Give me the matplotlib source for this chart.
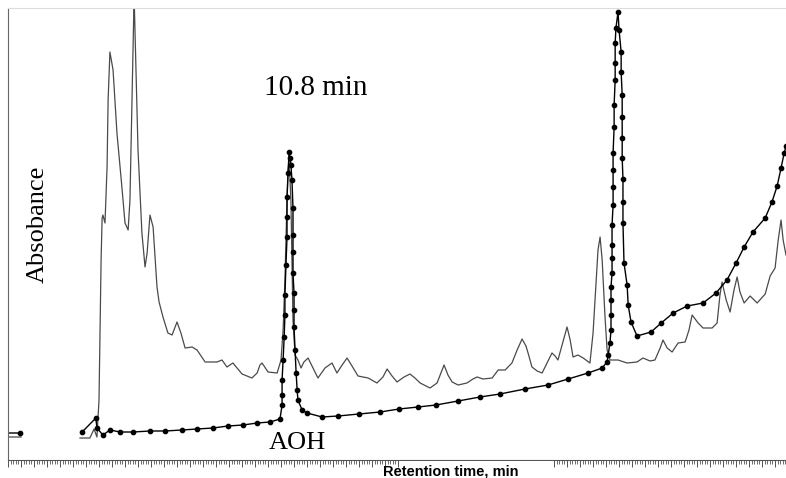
#!/usr/bin/env python3
"""Chromatogram overlay: sample trace (grey) + AOH standard (black, dotted)."""

import numpy as np
import matplotlib.pyplot as plt
from matplotlib.ticker import MultipleLocator
from matplotlib.patches import Rectangle

# sample trace (retention time min, absorbance mAU); nan = gap in trace
sample_t = [-0.30, 0.50, np.nan,
            2.77, 3.15, 3.31, 3.42, 3.50, 3.54, 3.58, 3.62, 3.65, 3.73, 3.81, 3.85,
            3.92, 4.04, 4.19, 4.38, 4.50, 4.62, 4.69, 4.77, 4.85, 4.92, 5.00, 5.15,
            5.27, 5.35, 5.46, 5.58, 5.73, 5.81, 5.96, 6.15, 6.31, 6.50, 6.65, 6.81,
            7.08, 7.27, 7.58, 8.04, 8.23, 8.42, 8.65, 9.00, 9.38, 9.58, 9.69, 9.77,
            10.00, 10.35, 10.50, 10.58, 10.65, 10.71, 10.77, 10.81, 10.88, 10.92,
            10.96, 11.04, 11.15, 11.27, 11.38, 11.54, 11.73, 11.92, 12.19, 12.46,
            12.65, 12.85, 13.04, 13.23, 13.46, 13.85, 14.19, 14.42, 14.58, 14.77,
            14.96, 15.23, 15.46, 15.65, 15.85, 16.23, 16.50, 16.65, 16.77, 16.92,
            17.08, 17.31, 17.65, 17.88, 18.04, 18.27, 18.62, 18.85, 19.12, 19.27,
            19.38, 19.58, 19.77, 19.92, 20.00, 20.15, 20.35, 20.54, 20.73, 20.92,
            21.04, 21.15, 21.31, 21.50, 21.62, 21.73, 21.92, 22.12, 22.38, 22.50,
            22.62, 22.69, 22.77, 22.85, 22.96, 23.04, 23.15, 23.46, 23.81, 24.19,
            24.42, 24.69, 24.88, 25.08, 25.19, 25.35, 25.54, 25.77, 26.04, 26.19,
            26.31, 26.54, 26.73, 27.08, 27.27, 27.38, 27.46, 27.62, 27.77, 27.92,
            28.04, 28.15, 28.31, 28.54, 28.81, 29.12, 29.31, 29.50, 29.62, 29.73,
            29.81, 29.92]
sample_a = [11.5, 11.5, np.nan,
            11.0, 11.0, 15.5, 11.5, 30.0, 65.0, 100.0, 121.0, 122.5, 118.5, 146.5, 180.0,
            204.0, 195.0, 163.5, 136.5, 118.5, 115.0, 130.0, 180.0, 232.0, 196.5, 155.0, 113.5,
            96.5, 103.5, 122.5, 116.5, 86.5, 79.0, 71.5, 63.5, 62.5, 69.0, 63.5, 56.0,
            56.5, 55.0, 49.0, 49.0, 50.0, 46.5, 48.5, 43.0, 41.0, 43.5, 47.5, 48.5,
            44.0, 43.5, 50.0, 65.0, 90.0, 120.0, 145.0, 150.0, 130.0, 100.0,
            70.0, 52.5, 50.0, 46.0, 49.0, 51.0, 46.0, 41.0, 46.0, 48.5,
            43.5, 47.5, 51.0, 47.0, 42.0, 41.0, 38.5, 41.5, 45.5, 42.0,
            39.0, 41.5, 43.0, 41.0, 38.5, 36.0, 38.5, 43.5, 47.5, 42.5,
            39.0, 37.5, 38.5, 40.5, 41.5, 40.5, 41.0, 45.0, 45.0, 47.0,
            48.5, 55.0, 60.5, 57.0, 53.5, 46.5, 44.5, 43.5, 48.5, 53.5,
            52.0, 50.0, 57.5, 66.5, 60.0, 51.5, 52.5, 51.0, 48.5, 63.5,
            90.0, 105.0, 111.5, 100.0, 71.5, 55.0, 50.0, 50.0, 48.5, 49.0,
            51.0, 49.5, 50.0, 56.0, 60.0, 56.0, 54.0, 58.5, 59.0, 65.0,
            72.5, 68.5, 66.0, 66.0, 68.5, 82.5, 89.0, 80.0, 74.0, 85.0,
            91.5, 84.0, 78.5, 82.0, 78.5, 83.0, 92.0, 96.0, 110.0, 120.0,
            110.0, 102.5]

# AOH standard (every recorded point is marked)
std_t = [-0.30, 0.46, np.nan,
         2.85, 3.38, 3.42, 3.65, 3.92, 4.31, 4.81, 5.46, 6.04, 6.69, 7.27,
         7.88, 8.46, 9.04, 9.58, 10.08, 10.46, 10.54, 10.54, 10.54, 10.58, 10.62,
         10.65, 10.65, 10.69, 10.73, 10.73, 10.73, 10.77, 10.81, 10.85, 10.88,
         10.92, 10.96, 10.96, 10.96, 10.96, 11.00, 11.00, 11.00, 11.04, 11.08,
         11.12, 11.15, 11.31, 11.50, 12.08, 12.69, 13.50, 14.31, 15.04, 15.77,
         16.46, 17.31, 18.15, 18.92, 19.88, 20.77, 21.54, 22.31, 22.85, 23.04,
         23.08, 23.15, 23.19, 23.19, 23.19, 23.19, 23.23, 23.23, 23.23, 23.23,
         23.27, 23.27, 23.27, 23.27, 23.31, 23.31, 23.35, 23.35, 23.35, 23.38,
         23.46, 23.50, 23.58, 23.58, 23.62, 23.62, 23.62, 23.62, 23.65, 23.65,
         23.65, 23.69, 23.81, 23.85, 23.96, 24.19, 24.73, 25.12, 25.58, 26.12,
         26.73, 27.23, 27.65, 28.00, 28.31, 28.65, 29.12, 29.38, 29.58, 29.73,
         29.85, 29.92]
std_a = [13.5, 13.5, np.nan,
         14.0, 21.0, 16.0, 12.5, 15.0, 14.0, 14.0, 14.5, 14.5, 15.0, 15.5,
         16.0, 17.0, 17.5, 18.5, 19.0, 20.5, 27.5, 32.5, 40.0, 50.0, 61.5,
         72.5, 82.5, 97.5, 111.5, 121.5, 131.5, 143.5, 154.0, 151.0, 147.5,
         140.0, 126.0, 112.5, 104.0, 93.5, 83.5, 75.0, 66.5, 55.0, 43.5,
         35.0, 30.0, 25.0, 23.5, 21.5, 22.0, 23.0, 24.0, 25.5, 26.5,
         27.5, 29.5, 31.5, 33.0, 35.5, 37.5, 40.5, 43.5, 46.0, 49.0,
         52.5, 58.5, 65.0, 72.5, 80.0, 86.5, 93.5, 101.0, 107.5, 117.5,
         127.5, 136.5, 145.0, 153.5, 166.5, 177.5, 190.0, 198.5, 208.5, 216.0,
         224.0, 215.0, 204.0, 194.0, 182.5, 171.5, 161.0, 151.0, 140.5, 129.0,
         118.5, 98.5, 87.5, 77.5, 69.0, 62.0, 64.0, 68.5, 73.5, 77.0,
         78.5, 83.5, 90.0, 98.5, 106.5, 114.0, 121.0, 129.0, 137.0, 146.0,
         153.5, 157.0]

fig = plt.figure(figsize=(7.86, 4.78), dpi=100)
ax = fig.add_axes([8 / 786, 18 / 478, 778 / 786, 452 / 478])

ax.plot(sample_t, sample_a, color='#4a4a4a', linewidth=0.9)
ax.plot(std_t, std_a, color='black', linewidth=1.0, marker='o', markersize=3.1)

ax.set_xlim(0, 29.92)
ax.set_ylim(0, 226)

ax.spines['right'].set_visible(False)
ax.spines['top'].set_color('#dddddd')
ax.spines['left'].set_color('#666666')
ax.spines['bottom'].set_color('#555555')
ax.spines['bottom'].set_linewidth(0.8)

ax.xaxis.set_major_locator(MultipleLocator(0.5))
ax.xaxis.set_minor_locator(MultipleLocator(0.1))
ax.tick_params(axis='x', which='major', length=5, width=0.7, color='#555555',
               direction='out', labelbottom=False)
ax.tick_params(axis='x', which='minor', length=3, width=0.6, color='#555555',
               direction='out')
ax.set_yticks([])

# white patch that hides part of the tick ruler in the original scan
fig.patches.append(Rectangle((400 / 786, 1 - 468 / 478), 153 / 786, 7 / 478,
                             transform=fig.transFigure, facecolor='white',
                             edgecolor='none', zorder=5))

ax.text(11.85, 186, '10.8 min', family='Liberation Serif', fontsize=21,
        ha='center', va='center',
        bbox=dict(facecolor='white', edgecolor='none', pad=8))
ax.text(11.12, 8.5, 'AOH', family='Liberation Serif', fontsize=19,
        ha='center', va='center')

fig.text(38 / 786, 1 - 224 / 478, 'Absobance', family='Liberation Serif',
         fontsize=19, rotation=90, ha='center', va='center')
fig.text(451 / 786, 1 - 471 / 478, 'Retention time, min', family='Liberation Sans',
         fontsize=10.5, fontweight='bold', ha='center', va='center', zorder=6)

fig.savefig('out.png', dpi=100)
